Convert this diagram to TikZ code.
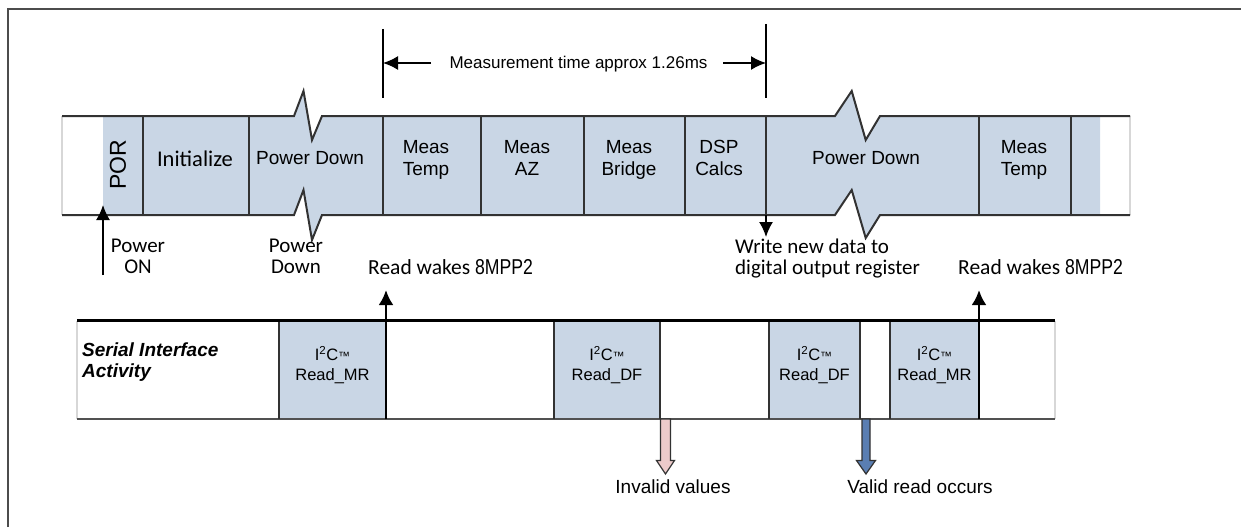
\documentclass[tikz,border=0pt]{standalone}
\usepackage{fontspec}
\setmainfont{Liberation Sans}
\newfontfamily\calfont{Carlito}
\newfontfamily\narrowfont[FakeStretch=0.82]{Liberation Sans}
\usetikzlibrary{arrows.meta}
\definecolor{cellblue}{RGB}{201,214,229}
\definecolor{edgegray}{RGB}{50,50,50}
\definecolor{pinkfill}{RGB}{236,202,202}
\definecolor{bluefill}{RGB}{90,126,178}
\definecolor{paleedge}{RGB}{215,215,215}
\begin{document}
\begin{tikzpicture}[x=1pt,y=-1pt,
  bandline/.style={draw=edgegray, line width=2pt, line join=miter},
  divider/.style={draw=edgegray, line width=1.8pt},
  paleline/.style={draw=paleedge, line width=1.2pt},
  boxlbl/.style={font=\fontsize{19}{22}\selectfont, align=center, inner sep=0pt},
  callbl/.style={font=\calfont\fontsize{21}{21.5}\selectfont, align=center, inner sep=0pt},
  i2clbl/.style={font=\fontsize{16.5}{20}\selectfont, align=center, inner sep=0pt},
  botlbl/.style={font=\fontsize{19}{22}\selectfont, inner sep=0pt, anchor=base},
  thinarrow/.style={-{Latex[length=15pt,width=14pt]}, line width=1.6pt, black},
  thickarrow/.style={-{Latex[length=15pt,width=15pt]}, line width=2.8pt, black},
  blockarrow/.style={draw=edgegray, line width=1.2pt, line join=miter},
]
\useasboundingbox (0,0) rectangle (1241,527);
% outer frame (partly visible)
\draw[line width=1.4pt, draw=black!70] (8,527) -- (8,9) -- (1241,9);

% ---------- top band ----------
\fill[cellblue] (103,116) -- (294,116) -- (303.5,91) -- (312,140) -- (322,116)
  -- (835,116) -- (851.7,91) -- (865.7,140) -- (880,116) -- (1100,116)
  -- (1100,215) -- (880,215) -- (865.7,238) -- (851.7,190) -- (835,215)
  -- (322,215) -- (312,240) -- (303.5,190) -- (294,215) -- (103,215) -- cycle;
\draw[paleline] (62,116) -- (62,215);
\draw[paleline] (1130,116) -- (1130,215);
\draw[bandline] (62,116) -- (294,116) -- (303.5,91) -- (312,140) -- (322,116)
  -- (835,116) -- (851.7,91) -- (865.7,140) -- (880,116) -- (1130,116);
\draw[bandline] (62,215) -- (294,215) -- (303.5,190) -- (312,240) -- (322,215)
  -- (835,215) -- (851.7,190) -- (865.7,238) -- (880,215) -- (1130,215);
\foreach \xx in {143,249,383,481,584,685,766,979,1071}
  \draw[divider] (\xx,116) -- (\xx,215);

% labels in the top band
\node[boxlbl, rotate=90, font=\fontsize{23}{23}\selectfont] (por) at (118,165) {POR};
\node[boxlbl, font=\calfont\fontsize{22.5}{22.5}\selectfont] (init) at (195,159) {Initialize};
\node[boxlbl] (pd1) at (310,158.5) {Power Down};
\node[boxlbl] (mt1) at (426,159.5) {Meas\\Temp};
\node[boxlbl] (maz) at (527,158) {Meas\\AZ};
\node[boxlbl] (mbr) at (629,159.5) {Meas\\Bridge};
\node[boxlbl] (dsp) at (719,158) {DSP\\Calcs};
\node[boxlbl] (pd2) at (866,158.5) {Power Down};
\node[boxlbl] (mt2) at (1024,159.5) {Meas\\Temp};

% measurement time dimension
\coordinate (dimL1) at (383,29);
\coordinate (dimL2) at (383,98);
\coordinate (dimR1) at (766,24);
\coordinate (dimR2) at (766,98);
\draw[line width=1.4pt] (dimL1) -- (dimL2);
\draw[line width=1.4pt] (dimR1) -- (dimR2);
\node[font=\fontsize{17}{17}\selectfont, inner sep=0pt, anchor=base] (meas) at (578.5,69) {Measurement time approx 1.26ms};
\coordinate (dimLa) at (431,63);
\coordinate (dimLb) at (383,63);
\coordinate (dimRa) at (723,63);
\coordinate (dimRb) at (766,63);
\draw[thinarrow] (dimLa) -- (dimLb);
\draw[thinarrow] (dimRa) -- (dimRb);

% arrows and notes below the top band
\coordinate (ponA) at (103,275);
\coordinate (ponB) at (103,205);
\draw[thinarrow] (ponA) -- (ponB);
\node[callbl] (pon) at (138,256.5) {Power\\ON};
\node[callbl] (pdn) at (296,256.5) {Power\\Down};
\coordinate (wrA) at (766,215);
\coordinate (wrB) at (766,237);
\draw[thinarrow] (wrA) -- (wrB);
\node[callbl, align=left, anchor=west] (wr) at (735,258.5) {Write new data to\\digital output register};
\node[font=\calfont\fontsize{21.5}{21.5}\selectfont, inner sep=0pt, anchor=base west] (rw1) at (368,274) {Read wakes {\narrowfont\fontsize{21.5}{21.5}\selectfont 8MPP2}};
\node[font=\calfont\fontsize{21.5}{21.5}\selectfont, inner sep=0pt, anchor=base west] (rw2) at (958,274) {Read wakes {\narrowfont\fontsize{21.5}{21.5}\selectfont 8MPP2}};

% ---------- serial interface band ----------
\fill[cellblue] (279,320.5) rectangle (386,419);
\fill[cellblue] (554,320.5) rectangle (660,419);
\fill[cellblue] (769,320.5) rectangle (860,419);
\fill[cellblue] (890,320.5) rectangle (979,419);
\draw[paleline] (77,320.5) -- (77,419);
\draw[paleline] (1055,320.5) -- (1055,419);
\draw[line width=2pt, draw=edgegray!85] (77,419) -- (1055,419);
\foreach \xx in {279,554,660,769,860,890}
  \draw[divider] (\xx,320.5) -- (\xx,419);
\draw[line width=3pt, black] (77,320.5) -- (1055,320.5);

\node[font=\bfseries\itshape\fontsize{19}{20.5}\selectfont, align=left, inner sep=0pt, anchor=north west] (sia) at (82,343) {Serial Interface\\Activity};
\node[i2clbl] (r1) at (332.5,365) {I\textsuperscript{2}C{\fontsize{12}{12}\selectfont ™}\\Read\_MR};
\node[i2clbl] (r2) at (607,365) {I\textsuperscript{2}C{\fontsize{12}{12}\selectfont ™}\\Read\_DF};
\node[i2clbl] (r3) at (814.5,365) {I\textsuperscript{2}C{\fontsize{12}{12}\selectfont ™}\\Read\_DF};
\node[i2clbl] (r4) at (934.5,365) {I\textsuperscript{2}C{\fontsize{12}{12}\selectfont ™}\\Read\_MR};

% wake arrows
\coordinate (wk1A) at (386,419);
\coordinate (wk1B) at (386,290);
\coordinate (wk2A) at (979,419);
\coordinate (wk2B) at (979,290);
\draw[thickarrow] (wk1A) -- (wk1B);
\draw[thickarrow] (wk2A) -- (wk2B);

% block arrows
\filldraw[blockarrow, fill=pinkfill] (660.5,419) -- (670.5,419) -- (670.5,460.5) -- (674.5,460.5)
  -- (665.5,474) -- (656.5,460.5) -- (660.5,460.5) -- cycle;
\filldraw[blockarrow, fill=bluefill] (862,419) -- (870,419) -- (870,460.5) -- (875.5,460.5)
  -- (866,474) -- (856.5,460.5) -- (862,460.5) -- cycle;
\node[botlbl] (inv) at (673,493) {Invalid values};
\node[botlbl] (val) at (920,493) {Valid read occurs};
\end{tikzpicture}
\end{document}
